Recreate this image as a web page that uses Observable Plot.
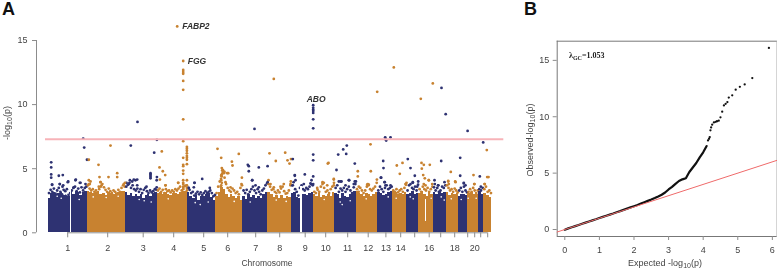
<!DOCTYPE html>
<html><head><meta charset="utf-8">
<script src="https://cdn.jsdelivr.net/npm/d3@7"></script>
<script src="https://cdn.jsdelivr.net/npm/@observablehq/plot@0.6"></script>
<style>
html,body{margin:0;padding:0;background:#fff;overflow:hidden}
#wrap{position:relative;width:777px;height:269px;font-family:"Liberation Sans",Arial,sans-serif;overflow:hidden}
#a,#b{position:absolute;top:0}
#a{left:0}#b{left:510px}
.tag{position:absolute;top:0;line-height:18px;font-size:18px;font-weight:bold;color:#111}
svg{display:block;overflow:visible;filter:blur(0.3px)}
</style></head><body>
<div id="wrap"><div id="a"></div><div id="b"></div>
<div class="tag" style="left:2px">A</div><div class="tag" style="left:524px">B</div></div>
<script>
// Panel A: genome positions are in bins of roughly 6.5 Mb
const chromSizes=[39,38.3,31.7,30,28.6,27,25,23.4,22.3,21.3,21.4,21.3,15,14.3,12,14.4,13,12.3,9.3,10.7,5,8.3];
const envelope=[
[2.7,3.1,3.15,3.0,3.1,3.15,2.9,3.0,2.8,3.25,3.0,3.2,3.15,2.9,3.15,3.25],
[3.25,3.15,3.05,3.15,3.2,2.95,3.1,2.9,3.15,3.05,3.0,3.1,3.15,3.25,3.2],
[3.15,2.9,3.05,2.8,3.0,2.8,2.95,2.7,2.9,3.0,2.85,3.05,3.15],
[3.05,3.15,2.95,3.15,3.0,2.9,3.05,3.1,3.0,3.15,3.25,3.25],
[3.15,2.85,2.65,2.9,2.55,2.8,2.85,3.0,3.05,2.75,2.55],
[2.85,3.15,3.5,3.35,2.95,2.75,3.0,2.85,2.65,2.85,2.55],
[2.85,2.6,2.95,2.75,2.9,2.7,2.85,2.65,2.95,3.15],
[3.15,3.0,2.75,2.9,2.65,2.9,2.7,2.85,2.75],
[3.05,3.15,2.75,2.7,2.95,3.0,2.9,3.05,3.15],
[3.0,2.85,3.05,2.75,2.9,2.85,3.0,2.85,3.15],
[3.1,2.95,2.7,3.05,2.85,2.75,3.0,3.05,3.2],
[3.25,3.05,3.0,2.85,3.1,2.95,2.85,3.0,3.15],
[3.15,3.1,2.9,3.0,3.15,3.2],
[3.25,3.15,3.0,3.1,3.0,3.15],
[3.0,3.1,3.25,2.95,3.1],
[3.1,3.2,3.0,2.85,3.15,3.0],
[3.15,3.0,3.2,3.05,3.15],
[3.15,2.9,3.05,3.0,3.05],
[2.8,2.95,3.0,2.9],
[3.1,3.15,2.95,3.0],
[3.2,3.0],
[3.05,2.9,2.75]];
// upper edge of the point cloud, evenly spaced along each chromosome
const fringe=[
[3.1,3.35,3.2,3.45,3.05,3.3,3.5,3.2,3.0,3.35,3.25,3.4,2.95,3.1,3.3,3.5,3.6,3.25,3.45,3.15,3.55,3.3,3.5,3.6],
[3.7,3.45,3.3,3.4,3.2,3.3,3.15,3.4,3.6,3.8,3.55,3.35,3.2,3.45,3.25,3.1,3.3,3.2,3.05,3.35,3.2,3.5,3.7,3.6],
[3.6,3.75,3.9,3.5,3.7,3.4,3.3,3.45,3.2,3.4,3.1,3.35,3.5,3.25,3.1,3.3,3.15,3.25,3.4,3.35],
[3.3,3.45,3.2,3.35,3.1,3.4,3.25,3.3,3.15,3.3,3.2,3.4,3.3,3.45,3.6,3.3,3.5,3.65,3.7],
[3.5,3.35,3.1,3.2,2.9,3.05,3.2,3.0,3.15,2.95,3.1,3.25,3.1,3.2,3.3,3.1,2.85,2.95],
[3.1,3.6,4.0,4.5,4.7,4.3,3.8,3.5,3.3,3.2,3.45,3.3,3.1,3.2,3.0,3.5,3.7],
[3.3,3.1,3.35,3.0,3.2,3.4,3.6,3.3,3.1,3.4,3.2,3.0,3.3,3.45,3.7,3.85],
[3.8,3.6,3.35,3.4,3.2,3.1,3.3,3.15,3.45,3.6,3.25,3.05,3.1,3.3,3.7],
[3.7,3.95,3.4,3.2,2.9,3.5,3.7,3.4,3.3,3.5,3.4,3.6,3.8,3.7],
[3.2,3.1,3.35,3.2,3.6,3.8,3.5,3.2,3.3,3.1,3.4,3.6,3.9],
[3.5,3.7,3.2,3.45,3.3,3.5,3.2,3.4,3.6,3.3,3.1,3.55,3.8],
[3.4,3.2,3.5,3.3,3.1,3.3,3.6,3.7,3.4,3.3,3.45,3.6,3.9],
[3.3,3.6,3.4,3.2,3.5,3.7,3.4,3.5,3.6],
[3.3,3.2,3.4,3.15,3.3,3.4,3.2,3.5,3.75],
[3.3,3.7,3.8,3.5,3.4,3.6,3.3,3.75],
[3.4,3.2,3.6,3.4,3.3,3.5,3.2,3.4,3.6],
[3.55,3.3,3.5,3.2,3.3,3.6,3.5,3.7],
[3.7,3.5,3.3,3.4,3.2,3.45,3.3,3.15],
[3.3,3.5,3.2,3.6,3.3,3.15],
[3.2,3.4,3.2,3.5,3.3,3.1,3.3],
[3.4,3.3,3.5],
[3.4,3.6,3.2,3.3,3.1]];
// [start, end, bottom, top] of the empty centromere stripes
const gaps=[[21.8,23.3,0,3.4],[252.6,253.8,0,1.2],[252,254.5,1.2,3.6],[377.7,378.7,0.9,2.6]];
// [position, -log10 p]
const snps=[[129,16.1],[135,13.4],[135,12.7],[135,12.55],[135,12.4],[135,11.85],[135,11.15],[135,8.85],[135,7.15],[135,5.85],[135,5.3],[135,5.2],[135,4.85],[135,4.6],[135,4.1],[135,3.9],[135,3.6],[135,3.4],
[138.7,6.7],[138.7,6.55],[138.7,6.4],[138.7,6.2],[138.7,6.0],[138.7,5.85],[138.7,5.7],[138.7,5.35],[138.7,4.1],[138.7,3.5],[138.7,3.3],
[172.6,3.6],[173.6,3.9],[172.8,4.2],[173.5,4.4],[173.9,4.6],[174.5,4.9],
[35,7.35],[36,6.65],[38.8,5.7],[40.6,5.7],[3,5.5],[3,5.1],[3,4.55],[3,4.3],[3.8,3.75],[10.6,4.45],[14.6,4.5],[11.6,3.8],[14.3,3.6],[20,4.0],[27.6,4.15],[32.3,3.9],
[50.3,5.3],[62.3,6.8],[51.3,4.35],[60.3,4.35],[69,4.65],[69,4.35],[52.3,3.95],[40.6,4.1],[41.6,3.8],[78.3,3.9],
[89.3,8.65],[82.6,6.8],[108.7,7.25],[106,6.25],[102.3,4.65],[102.3,4.55],[102.3,4.45],[102.3,4.35],[102.3,4.25],[81.7,4.1],[85.6,4.15],[89,4.15],[108.7,4.35],[108.5,4.1],
[113.6,6.35],[111.3,5.1],[114.6,4.8],[117,4.5],[111.7,4.15],[117.3,3.7],[130,3.9],
[154,4.2],[146.3,3.9],[161.6,3.5],[169.3,6.55],[173,5.85],[183.7,5.55],[184.3,5.25],[190.6,6.15],[193.7,4.3],[173.6,5.05],[175,4.85],[176.3,4.75],[180,4.65],
[199.6,5.3],[200.6,5.2],[200.6,4.8],[206.3,8.1],[210.6,5.1],[204,4.1],[219.4,5.2],[221.3,6.2],[220.3,4.1],
[225.6,12.0],[227.6,5.6],[237,6.25],[239.3,5.65],[241.3,5.4],[242.8,5.75],[244.6,5.75],[246.6,4.5],[242.6,4],
[265,9.95],[265,9.75],[265,9.6],[265,9.5],[265,9.35],[265,8.85],[265,8.15],[265,6.1],[265,5.65],[265,4.4],[256.6,4.55],[263.3,4.1],
[280.3,5.45],[279.6,5.4],[274.3,3.95],[285.6,4.15],[288.3,4.9],[290,6.1],[295,6.5],[298.6,6.8],[298,6.15],[306.6,5.4],[292.3,4],[301,4.1],[307.7,4],
[309.6,4.8],[309.6,4.4],[322.3,6.9],[322.6,4.8],[329,11.0],[328.7,4.15],[319.6,3.8],
[337,7.45],[338,7.2],[337.3,7.3],[342.3,7.45],[335,5.6],[335.3,5.05],[332.6,4.3],[336.6,3.95],
[345.6,12.9],[348.6,5.25],[354.3,5.45],[351.6,4.6],[358.3,3.9],[359.6,5.75],[362.3,5.05],[366.6,4.45],[364.6,3.9],
[372.6,10.45],[373.3,5.45],[375.6,5.3],[373.6,5],[381.6,5.3],[375,4.5],[376.6,4.25],[380.6,4.1],[384.6,11.65],
[393.3,11.3],[393,5.6],[386.3,4.1],[390,3.7],[397.5,9.25],[402.6,4.75],[400,4],[407,4],[412,5.85],[412,4.45],[415.6,3.85],[419.4,7.95],
[435,7.05],[438.6,6.45],[425.3,4.5],[431.6,4.4],[439,4.35],[440.3,4.35],[436.3,3.8],[426.3,3.8],
[4,3.75],[11.6,3.8],[15,3.7],[19.6,3.95],[27.3,4.1],[31.6,3.9],[25.6,3.55],[37.3,3.8],
[42.3,4.0],[40.6,3.8],[52.3,3.95],[50.6,3.6],[53.3,3.7],[75.6,3.8],[76.8,3.9],
[80.6,3.8],[84,4.0],[87.3,4.1],[89,3.7],[98.3,3.6],[108.5,3.55],
[117.3,3.7],[130,3.9],[135,3.8],[138.7,3.7],
[140.6,3.5],[146.3,3.9],[145.6,3.55],
[173,3.7],[173,4.1],[173,4.45],[174,4.85],[175.6,4.65],[179,4.65],[177.3,3.95],[182.3,3.55],[193.3,3.8],
[204,4.1],[210.6,3.55],[207.3,3.7],[219.4,3.95],
[222.3,3.8],[225.6,3.55],[235.6,3.8],[232.3,3.6],[242.3,3.8],
[246.6,4.45],[247.3,4.1],[244.6,3.7],[255.6,3.8],[262.3,3.85],[265,3.8],
[269,3.5],[275.6,3.9],[279,3.7],[285.6,4.2],[285.6,3.7],
[290.6,4],[293.3,4],[300.6,4.1],[297.3,3.7],[305.6,3.8],[306.6,4],
[310.6,3.6],[319,3.75],[320.6,3.75],
[336.3,3.95],[337.3,3.7],[333,4.3],[342.3,3.7],
[357.3,3.8],[364.6,3.95],[370,4],[369,3.6],
[375.6,3.8],[380.6,4.1],[377.3,3.7],[384,3.8],[386.6,3.8],[390,3.7],[396.3,3.95],
[400,4.05],[400.6,3.8],[407.3,3.95],[415.6,3.9],[417.3,3.7],
[426,3.8],[432.6,3.6],[436.6,3.8]];
// white specks where the point cloud thins out
const holes=[[9,2.85],[13,2.7],[18,3.0],[31,2.6],[45,2.8],[58,2.75],[70,2.85],[91,2.6],[96,2.5],[103,2.4],[120,2.65],[147,2.35],[152,2.2],[160,2.4],[186,2.45],[202,2.4],[228,2.55],[238,2.45],[276,2.6],[292,2.4],[294,2.2],[302,2.5],[318,2.65],[340,2.8],[348,2.7],[362,2.8],[365,2.65],[383,2.7],[393,2.8],[396,2.55],[403,2.65],[413,2.6],[420,2.7],[428,2.7]];
const tickPos=[19.5,59.5,95,125.5,155.5,179.5,207.5,231.5,257,277.5,299.5,320,337.7,352.5,366.5,381,392.5,406.5,419.5,426.5,432.5,439.5];
const tickLabels=["1","2","3","4","5","6","7","8","9","10","11","12","13","14","","16","","18","","20","",""];
const genomeLine=7.3;
const genes=[{name:"FABP2",pos:134,p:16.1},{name:"FGG",pos:139.6,p:13.4},{name:"ABO",pos:258.5,p:10.4}];

// Panel B
const qqExpected=[0,.1,.2,.3,.4,.5,.6,.7,.8,.9,1,1.1,1.2,1.3,1.4,1.5,1.6,1.7,1.8,1.9,2,2.1,2.2,2.3,2.4,2.5,2.6,2.7,2.8,2.9,3,3.1,3.2,3.3,3.4,3.5,3.6,3.7,3.8,3.9,4,4.1];
const qqObserved=[-.02,.1,.2,.3,.4,.51,.61,.71,.81,.91,1.02,1.12,1.22,1.32,1.42,1.53,1.63,1.74,1.85,1.96,2.07,2.18,2.3,2.42,2.54,2.66,2.79,2.93,3.08,3.28,3.55,3.78,4.05,4.3,4.45,4.55,5.1,5.5,5.9,6.4,6.85,7.4];
const tailExpected=[4.14,4.17,4.19,4.21,4.23,4.26,4.31,4.36,4.4,4.45,4.5,4.55,4.6,4.65,4.7,4.74,4.84,4.94,5.06,5.2,5.42,5.9];
const tailObserved=[7.9,8.05,8.2,8.8,9.05,9.3,9.5,9.55,9.6,9.65,9.95,10.45,11,11.15,11.3,11.7,11.9,12.4,12.65,12.87,13.43,16.1];
const frameX=[-0.22,6.14],frameY=[-0.62,16.7];

const navy="#2e3272",orange="#c88230",grayLine="#8c8c8c",txt="#444";
const FONT='"Liberation Sans",Arial,sans-serif';

let acc=0;const chromRanges=chromSizes.map(s=>{const r=[acc,acc+s];acc+=s;return r;});
const side=p=>{const i=chromRanges.findIndex(r=>p<r[1]);return i%2===0?"odd":"even";};
const bins=envelope.flatMap((vals,i)=>{const [a,b]=chromRanges[i],w=(b-a)/vals.length;
  return vals.map((h,j)=>({x1:a+j*w,x2:a+(j+1)*w,h,g:i%2===0?"odd":"even"}));});
const fringeRows=fringe.flatMap((vals,i)=>{const [a,b]=chromRanges[i],w=(b-a)/vals.length;
  return vals.map((v,j)=>({p:a+(j+.5)*w,v,g:i%2===0?"odd":"even"}));});
const snpRows=snps.map(([p,v])=>({p,v,g:side(p)}));

const plotA=Plot.plot({width:510,height:269,marginLeft:36,marginRight:18.7,marginTop:40,marginBottom:36.7,
  style:{background:"transparent",fontFamily:FONT,fontSize:"9px",color:txt},
  x:{domain:[0,acc],range:[47.7,491.3],axis:null},
  y:{domain:[0,15],axis:null},
  color:{domain:["odd","even"],range:[navy,orange]},
  marks:[
    Plot.dot(fringeRows,{x:"p",y:"v",r:1.4,fill:"g"}),
    Plot.rectY(bins,{x1:"x1",x2:"x2",y1:0,y2:"h",fill:"g",shapeRendering:"crispEdges"}),
    Plot.rectY(gaps,{x1:d=>d[0],x2:d=>d[1],y1:d=>d[2],y2:d=>d[3],fill:"#fff",shapeRendering:"crispEdges"}),
    Plot.dot(holes,{x:d=>d[0],y:d=>d[1],r:0.8,fill:"#fff"}),
    Plot.dot(snpRows,{x:"p",y:"v",r:1.4,fill:"g"}),
    Plot.ruleY([genomeLine],{x1:-2.7,x2:455.6,stroke:"#f7b3b8",strokeWidth:2}),
    Plot.ruleX([-11.7],{y1:0,y2:15,stroke:grayLine}),
    Plot.ruleY([0],{x1:tickPos[0],x2:tickPos[tickPos.length-1],stroke:grayLine}),
    Plot.axisY({ticks:[0,5,10,15],tickSize:4,tickPadding:5,textAngle:-90,label:null,stroke:grayLine,color:txt,fontSize:9}),
    Plot.axisX({ticks:tickPos,tickSize:5,tickPadding:7,label:null,stroke:grayLine,color:txt,fontSize:9,
      tickFormat:v=>tickLabels[tickPos.indexOf(v)]}),
    Plot.text(genes,{x:"pos",y:"p",text:"name",textAnchor:"start",fontWeight:"bold",fontStyle:"italic",fontSize:8.5,fill:"#333",fontFamily:FONT})
  ]});
document.getElementById("a").append(plotA);
const sa=d3.select(plotA);
sa.append("text").attr("x",267).attr("y",266).attr("text-anchor","middle").attr("font-size",8.5).attr("fill",txt).text("Chromosome");
const ya=sa.append("text").attr("transform","translate(10,123) rotate(-90)").attr("text-anchor","middle").attr("font-size",9).attr("fill",txt);
ya.append("tspan").text("-log");ya.append("tspan").attr("dy",2).attr("font-size",7).text("10");ya.append("tspan").attr("dy",-2).text("(p)");

const plotB=Plot.plot({width:267,height:269,marginLeft:46.7,marginRight:0.3,marginTop:40.7,marginBottom:33,
  style:{background:"transparent",fontFamily:FONT,fontSize:"9px",color:txt},
  x:{domain:frameX,range:[46.7,266.7],axis:null},
  y:{domain:frameY,axis:null},
  marks:[
    Plot.ruleX(frameX,{y1:frameY[0],y2:frameY[1],stroke:"#777"}),
    Plot.ruleY(frameY,{x1:frameX[0],x2:frameX[1],stroke:"#777"}),
    Plot.line(qqExpected,{x:d=>d,y:(d,i)=>qqObserved[i],stroke:"#111",strokeWidth:2.2}),
    Plot.dot(tailExpected,{x:d=>d,y:(d,i)=>tailObserved[i],r:1.15,fill:"#111"}),
    Plot.line(frameX,{x:d=>d,y:d=>d,stroke:"#ef6a6a",strokeWidth:1}),
    Plot.axisX({ticks:[0,1,2,3,4,5,6],tickSize:4,tickPadding:6,label:null,tickFormat:d3.format("d"),stroke:grayLine,color:txt,fontSize:9}),
    Plot.axisY({ticks:[0,5,10,15],tickSize:4,tickPadding:4,textAngle:-90,label:null,tickFormat:d3.format("d"),stroke:grayLine,color:txt,fontSize:9})
  ]});
document.getElementById("b").append(plotB);
const sb=d3.select(plotB);
const xb=sb.append("text").attr("x",155).attr("y",266).attr("text-anchor","middle").attr("font-size",9).attr("fill",txt);
xb.append("tspan").text("Expected -log");xb.append("tspan").attr("dy",2).attr("font-size",7).text("10");xb.append("tspan").attr("dy",-2).text("(p)");
const yb=sb.append("text").attr("transform","translate(23,140) rotate(-90)").attr("text-anchor","middle").attr("font-size",9).attr("fill",txt);
yb.append("tspan").text("Observed-log");yb.append("tspan").attr("dy",2).attr("font-size",7).text("10");yb.append("tspan").attr("dy",-2).text("(p)");
const lam=sb.append("text").attr("x",59).attr("y",58).attr("text-anchor","start").attr("font-family",'"Liberation Serif",serif').attr("font-weight","bold").attr("font-size",8).attr("fill","#222");
lam.append("tspan").text("λ");lam.append("tspan").attr("dy",2).attr("font-size",6).text("GC");lam.append("tspan").attr("dy",-2).text("=1.053");
</script></body></html>
